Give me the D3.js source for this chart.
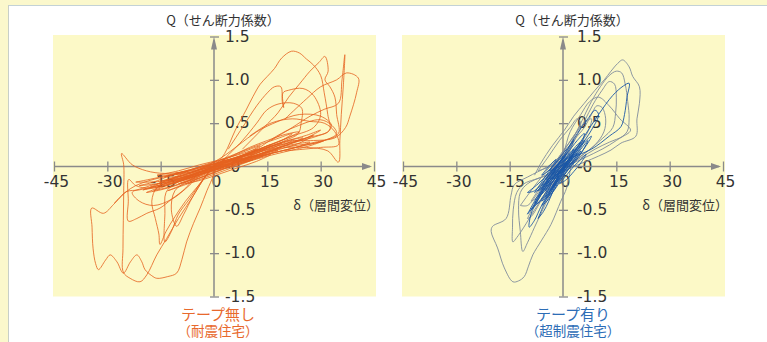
<!DOCTYPE html>
<html><head><meta charset="utf-8">
<script src="https://cdn.jsdelivr.net/npm/d3@7"></script>
<style>html,body{margin:0;padding:0;background:#fff}svg{display:block}</style>
</head><body>
<svg id="chart" width="767" height="342"></svg>
<script>
// Axis ticks and texts
const xTicks = [-45, -30, -15, 0, 15, 30, 45];
const xTickLabels = ["-45", "-30", "-15", "0", "15", "30", "45"];
const yTicks = [1.5, 1.0, 0.5, 0, -0.5, -1.0, -1.5];
const yTickLabels = ["1.5", "1.0", "0.5", "-0", "-0.5", "-1.0", "-1.5"];
const qTitle = "Q（せん断力係数）";
const dTitle = "δ（層間変位）";
const captionNoTape = ["テープ無し", "（耐震住宅）"];
const captionTape = ["テープ有り", "（超制震住宅）"];

// Hysteresis loops, [δ, Q] — house without tape (耐震住宅)
const loopsNoTape = [
  [[-16,-0.2],[-10,-0.12],[-4,-0.04],[2,0.04],[8,0.12],[14,0.2],[19,0.27],[16,0.2],[10,0.1],[4,0.01],[-2,-0.07],[-9,-0.15],[-16,-0.2]],
  [[-12,-0.2],[-6,-0.1],[0,0],[6,0.09],[12,0.17],[17,0.24],[22,0.3],[18,0.22],[11,0.12],[5,0.04],[-1,-0.05],[-7,-0.14],[-12,-0.2]],
  [[-18,-0.24],[-12,-0.14],[-6,-0.06],[0,0.03],[6,0.1],[11,0.14],[7,0.06],[2,-0.01],[-4,-0.09],[-10,-0.17],[-18,-0.24]],
  [[-9,-0.16],[-3,-0.05],[3,0.05],[9,0.14],[15,0.22],[21,0.3],[25,0.33],[20,0.24],[13,0.14],[6,0.05],[0,-0.04],[-6,-0.12],[-9,-0.16]],
  [[-14,-0.12],[-8,-0.06],[-2,0.01],[4,0.08],[10,0.16],[16,0.25],[13,0.17],[7,0.08],[1,0],[-5,-0.08],[-11,-0.12],[-14,-0.12]],
  [[-20,-0.27],[-14,-0.2],[-8,-0.11],[-2,-0.03],[4,0.05],[8,0.1],[4,0.03],[-2,-0.06],[-8,-0.15],[-14,-0.22],[-20,-0.27]],
  [[-6,-0.1],[0,-0.01],[6,0.08],[12,0.16],[18,0.24],[24,0.3],[28,0.36],[24,0.27],[17,0.18],[10,0.09],[3,0],[-3,-0.08],[-6,-0.1]],
  [[-16,-0.1],[-10,-0.05],[-4,0.02],[2,0.08],[8,0.15],[12,0.2],[8,0.12],[2,0.03],[-4,-0.04],[-10,-0.09],[-16,-0.1]],
  [[-10,-0.2],[-4,-0.1],[2,0],[8,0.08],[14,0.15],[18,0.19],[14,0.12],[8,0.04],[2,-0.04],[-4,-0.13],[-10,-0.2]],
  [[-22,-0.18],[-16,-0.13],[-10,-0.07],[-4,-0.01],[2,0.05],[-3,-0.03],[-9,-0.1],[-15,-0.17],[-22,-0.18]],
  [[-4,-0.03],[2,0.05],[8,0.13],[14,0.21],[20,0.29],[26,0.36],[30,0.42],[26,0.33],[19,0.23],[12,0.13],[5,0.04],[-4,-0.03]],
  [[-13,-0.28],[-7,-0.18],[-1,-0.08],[5,0.01],[11,0.08],[6,0],[0,-0.09],[-6,-0.18],[-13,-0.28]],
  [[-19,-0.3],[-14,-0.22],[-9,-0.15],[-5,-0.08],[-1,-0.02],[3,0.03],[7,0.09],[4,0.02],[0,-0.05],[-5,-0.13],[-10,-0.21],[-15,-0.27],[-19,-0.3]],
  [[-7,-0.08],[-2,0],[3,0.07],[8,0.11],[13,0.17],[18,0.22],[23,0.26],[27,0.28],[23,0.22],[17,0.16],[11,0.1],[5,0.03],[0,-0.04],[-7,-0.08]],
  [[-15,-0.17],[-11,-0.12],[-6,-0.03],[-1,0.04],[4,0.1],[9,0.18],[13,0.24],[9,0.15],[4,0.06],[-1,-0.02],[-6,-0.09],[-11,-0.15],[-15,-0.17]],
  [[-11,-0.08],[-6,-0.04],[-1,0.02],[4,0.06],[9,0.1],[14,0.13],[10,0.07],[5,0.02],[0,-0.03],[-5,-0.06],[-11,-0.08]],
  [[-21,-0.22],[-17,-0.18],[-12,-0.1],[-7,-0.04],[-2,0.02],[3,0.08],[0,0],[-5,-0.08],[-10,-0.14],[-16,-0.2],[-21,-0.22]],
  [[-3,-0.06],[3,0.02],[9,0.1],[15,0.17],[21,0.23],[26,0.26],[31,0.3],[27,0.24],[21,0.18],[15,0.12],[9,0.05],[3,-0.02],[-3,-0.06]],
  [[-8,-0.2],[-3,-0.12],[2,-0.04],[7,0.04],[12,0.1],[16,0.14],[12,0.06],[7,-0.01],[2,-0.08],[-3,-0.15],[-8,-0.2]],
  [[0,0.02],[5,0.12],[10,0.22],[15,0.3],[20,0.37],[24,0.4],[20,0.32],[15,0.24],[10,0.15],[5,0.07],[0,0.02]],
  [[-17,-0.28],[-12,-0.2],[-7,-0.12],[-3,-0.06],[1,0],[-2,-0.07],[-7,-0.16],[-12,-0.23],[-17,-0.28]],
  [[2,0.08],[7,0.16],[12,0.24],[17,0.31],[22,0.38],[19,0.3],[14,0.22],[9,0.14],[4,0.06],[2,0.08]],
  [[-12,-0.15],[-5,-0.05],[2,0.1],[7,0.25],[12,0.4],[18,0.52],[24,0.6],[30,0.58],[33,0.48],[32,0.4],[26,0.33],[18,0.24],[10,0.12],[2,-0.02],[-6,-0.1],[-12,-0.15]],
  [[5,0.05],[12,0.2],[17.6,0.35],[23,0.46],[29.8,0.54],[33,0.48],[34.5,0.38],[31,0.3],[25,0.24],[18,0.17],[10,0.1],[5,0.05]],
  [[2,0.05],[8,0.3],[12,0.5],[14.8,0.65],[18,0.72],[22.3,0.73],[24.7,0.67],[24.5,0.5],[23.7,0.38],[20,0.3],[14,0.2],[7,0.1],[2,0.05]],
  [[0,0],[3,0.15],[6,0.42],[9,0.65],[11,0.81],[13,0.95],[15,1.04],[17,1.13],[19,1.25],[21.8,1.33],[24,1.31],[26,1.24],[28,1.17],[30,1.05],[31,0.85],[32,0.6],[32.5,0.42],[29,0.35],[22,0.27],[15,0.16],[8,0.06],[0,0]],
  [[8,0.2],[14,0.45],[18,0.62],[21,0.8],[24,0.95],[27,1.1],[29.5,1.2],[31.2,1.27],[32.1,1.1],[31.2,1.0],[32.6,0.92],[34,0.8],[34.5,0.6],[35,0.38],[31,0.3],[24,0.23],[16,0.15],[8,0.06]],
  [[16,0.3],[22,0.45],[27,0.58],[31,0.66],[35,0.73],[36,1.0],[36.8,1.29],[36.4,0.95],[35.8,0.6],[35.4,0.3],[35,0.05],[32,0.18],[26,0.22],[20,0.22]],
  [[20,0.55],[26,0.78],[30,0.92],[34.5,1.0],[37.3,1.08],[40.6,1.02],[40.1,0.85],[38.2,0.58],[37,0.45],[34,0.33],[28,0.3],[22,0.3]],
  [[4,0.2],[8,0.45],[12,0.7],[15,0.85],[17,0.92],[18.8,0.92],[19.2,0.75],[19.6,0.68],[19.4,0.85],[21,0.88],[25,0.9],[28,0.82],[30,0.6],[28,0.45],[22,0.35],[14,0.22],[6,0.1]],
  [[10,0.35],[16,0.5],[22,0.55],[27,0.52],[31,0.5],[34,0.4],[35,0.25],[30,0.22],[20,0.18]],
  [[0,0],[-4,-0.06],[-10,-0.15],[-16,-0.22],[-21,-0.27],[-24.6,-0.29],[-26.9,-0.38],[-28.3,-0.44],[-31.1,-0.54],[-34.4,-0.48],[-34.3,-0.7],[-34,-0.95],[-33.3,-1.12],[-32.5,-1.19],[-30.5,-1.08],[-29.2,-1.02],[-27.3,-1.1],[-25.5,-1.23],[-23.5,-1.1],[-21.7,-1.02],[-20.3,-1.1],[-19.4,-1.19],[-17.5,-1.26],[-16.1,-1.29],[-13,-1.27],[-10.5,-1.23],[-9,-1.07],[-7.7,-0.87],[-5.8,-0.66],[-3.9,-0.48],[-2,-0.28],[-0.2,-0.1],[0,0]],
  [[-2,-0.02],[-8,-0.06],[-14,-0.08],[-19,-0.05],[-23,0.02],[-26,0.15],[-25.4,0.02],[-25.4,-0.3],[-25.5,-0.62],[-25.6,-0.95],[-25.5,-1.22],[-23.6,-1.29],[-20.8,-1.33],[-18.9,-1.25],[-16.1,-1.02],[-13.3,-0.83],[-10,-0.6],[-6,-0.35],[-3,-0.15],[-1,-0.04]],
  [[-5,-0.1],[-12,-0.2],[-18,-0.25],[-22,-0.22],[-24,-0.15],[-24.1,-0.4],[-24.1,-0.63],[-21.7,-0.6],[-18.9,-0.54],[-15.2,-0.48],[-12,-0.38],[-8,-0.25],[-5,-0.1]],
  [[0,0],[-6,-0.1],[-12,-0.18],[-16,-0.24],[-17.5,-0.4],[-16.5,-0.6],[-15.5,-0.78],[-15.2,-0.9],[-13.5,-0.75],[-11,-0.58],[-8,-0.4],[-4,-0.2],[0,0]],
  [[-1,-0.03],[-6,-0.12],[-11,-0.2],[-13.5,-0.3],[-13.8,-0.54],[-13.8,-0.87],[-12,-0.75],[-10,-0.55],[-7,-0.38],[-4,-0.2],[-1,-0.03]],
  [[-2,-0.05],[-7,-0.16],[-11,-0.28],[-12,-0.5],[-10.5,-0.69],[-8.5,-0.55],[-6,-0.35],[-3,-0.15]],
  [[-3,-0.05],[-10,-0.15],[-16,-0.2],[-20,-0.25],[-23,-0.3],[-21,-0.4],[-17,-0.45],[-12,-0.38],[-7,-0.22],[-3,-0.05]],
  [[-28,-0.42],[-25,-0.3],[-22,-0.22],[-18,-0.16],[-14,-0.12],[-9,-0.08]]
];

// Hysteresis loops, [δ, Q] — house with tape (超制震住宅), outer loops
const loopsTapeGray = [
  [[-8,-0.1],[-6.2,0.04],[-3,0.24],[0.4,0.42],[3,0.58],[6,0.73],[9,0.88],[11.6,1.0],[13.5,1.1],[15.4,1.19],[16.8,1.23],[18.6,1.15],[19.6,1.04],[21.5,0.92],[21.5,0.73],[20.8,0.55],[20.5,0.35],[16.3,0.27],[13.5,0.19],[10,0.12],[6,0.05],[3,0],[0,-0.05],[-2,-0.05]],
  [[-1,-0.05],[2,0.25],[5,0.5],[8,0.75],[10.5,0.92],[13,1.05],[15,1.1],[16.5,1.08],[17.5,0.95],[18.2,0.75],[18.6,0.55],[18,0.4],[15,0.3],[11,0.2],[6,0.1],[2,0.02],[-1,-0.05]],
  [[0,0],[3,0.28],[6,0.52],[8.5,0.72],[11,0.88],[13,0.98],[14.5,0.95],[15,0.8],[14.8,0.62],[14,0.45],[11,0.32],[7,0.18],[3,0.06],[0,0]],
  [[-3,-0.1],[0,0.1],[3,0.3],[6,0.45],[8,0.6],[9.5,0.7],[11,0.68],[12,0.55],[11.5,0.4],[9,0.25],[5,0.12],[1,0],[-3,-0.1]],
  [[-4,-0.1],[0,0.15],[2,0.4],[5,0.6],[7.5,0.75],[10,0.8],[13,0.7],[16,0.55],[19,0.42],[17,0.35],[13,0.28],[9,0.2],[5,0.1],[0,-0.02],[-4,-0.1]],
  [[3,0],[1.3,0.16],[-4.3,0],[-9.9,-0.12],[-13.7,-0.21],[-14.6,-0.33],[-16,-0.6],[-19.8,-0.69],[-20.2,-0.75],[-18.4,-0.94],[-16.5,-1.17],[-14.1,-1.33],[-12.5,-1.32],[-10.9,-1.27],[-9.7,-1.15],[-8.5,-1.02],[-6,-0.85],[-3.4,-0.67],[-0.6,-0.4],[1,-0.25],[2.2,0]],
  [[-1,-0.05],[-4,-0.1],[-8,-0.15],[-11,-0.2],[-13,-0.3],[-14,-0.5],[-14.2,-0.7],[-14.1,-0.87],[-13,-0.82],[-11,-0.7],[-8,-0.5],[-5,-0.32],[-2,-0.15],[-1,-0.05]],
  [[-2,-0.05],[-6,-0.12],[-10,-0.2],[-12,-0.3],[-12.5,-0.5],[-12,-0.75],[-11.3,-0.98],[-10,-0.88],[-8,-0.7],[-5.5,-0.48],[-3,-0.25],[-2,-0.05]],
  [[-9,-0.4],[-5,-0.15],[-1,0.1],[3,0.35],[6,0.5],[8,0.55],[7,0.4],[4,0.22],[0,0],[-4,-0.2],[-8,-0.38],[-9,-0.4]],
  [[-10,-0.6],[-7,-0.35],[-4,-0.12],[-1,0.1],[1,0.2],[0,0.08],[-3,-0.15],[-6,-0.38],[-9,-0.58],[-10,-0.6]],
  [[-7,-0.05],[-4,0.12],[-1,0.3],[2,0.45],[4,0.55],[5,0.5],[3,0.35],[0,0.18],[-3,0.02],[-7,-0.05]],
  [[-12,-0.45],[-9,-0.28],[-6,-0.12],[-3,0.02],[-4,-0.12],[-7,-0.3],[-10,-0.45],[-12,-0.45]]
];

// Hysteresis loops, [δ, Q] — house with tape, inner loops
const loopsTapeBlue = [
  [[-7,-0.35],[-4,-0.15],[-1,0.02],[2,0.15],[4,0.25],[5,0.28],[3,0.15],[0,-0.02],[-3,-0.18],[-6,-0.32],[-7,-0.35]],
  [[-5,-0.28],[-2,-0.08],[1,0.08],[3.5,0.2],[2,0.08],[-1,-0.08],[-4,-0.22],[-5,-0.28]],
  [[-8,-0.42],[-5,-0.22],[-2,-0.02],[1,0.14],[4,0.3],[6,0.38],[5,0.25],[2,0.08],[-1,-0.1],[-4,-0.28],[-7,-0.42],[-8,-0.42]],
  [[-3,-0.15],[-1,-0.02],[1,0.05],[2,0.1],[0.5,-0.01],[-1.5,-0.1],[-3,-0.15]],
  [[-6,-0.22],[-3,-0.1],[0,0.05],[3,0.18],[6,0.3],[4,0.16],[1,0.02],[-2,-0.1],[-5,-0.2],[-6,-0.22]],
  [[-9,-0.5],[-6,-0.3],[-3,-0.12],[0,0.05],[2,0.12],[-1,-0.06],[-4,-0.25],[-7,-0.42],[-9,-0.5]],
  [[-4,-0.3],[-2,-0.18],[0,-0.05],[2,0.06],[4,0.15],[2.5,0.04],[0,-0.1],[-2.5,-0.22],[-4,-0.3]],
  [[-2,-0.02],[1,0.18],[4,0.38],[7,0.55],[9,0.65],[10,0.6],[8,0.42],[5,0.24],[2,0.08],[-2,-0.02]],
  [[2,0.1],[6,0.35],[10,0.6],[14,0.82],[17,0.93],[18.6,0.96],[18,0.8],[17.3,0.6],[16.3,0.46],[13,0.35],[8,0.2],[2,0.1]],
  [[-1,-0.05],[-4,-0.2],[-7,-0.38],[-9,-0.55],[-9.5,-0.7],[-8,-0.62],[-6,-0.45],[-3.4,-0.3],[-1,-0.05]],
  [[-6,-0.4],[-3,-0.25],[0,-0.08],[3,0.08],[5,0.18],[3,0.05],[0,-0.12],[-3,-0.3],[-6,-0.4]],
  [[-10,-0.3],[-7,-0.2],[-4,-0.08],[-1,0.05],[1,0.15],[-2,0],[-5,-0.15],[-8,-0.28],[-10,-0.3]],
  [[-5,-0.15],[-3,-0.05],[-1,0.05],[1,0.12],[3,0.2],[1.5,0.08],[-0.5,-0.03],[-2.5,-0.12],[-5,-0.15]],
  [[-7,-0.28],[-5,-0.16],[-3,-0.06],[-1,0.03],[1,0.1],[-0.5,0],[-2.5,-0.1],[-5,-0.22],[-7,-0.28]],
  [[-6,-0.45],[-4,-0.3],[-2,-0.16],[0,-0.02],[2,0.1],[3,0.15],[1.5,0.02],[-0.5,-0.12],[-2.5,-0.27],[-4.5,-0.4],[-6,-0.45]],
  [[-3,-0.25],[-1,-0.12],[1,0],[3,0.1],[5,0.2],[7,0.3],[5.5,0.18],[3.5,0.06],[1,-0.06],[-1,-0.17],[-3,-0.25]],
  [[-8,-0.3],[-6,-0.18],[-4,-0.06],[-2,0.04],[0,0.12],[-1.5,0.02],[-3.5,-0.1],[-5.5,-0.22],[-8,-0.3]],
  [[-2,-0.1],[0,0],[2,0.1],[4,0.2],[6,0.28],[8,0.35],[6.5,0.24],[4.5,0.13],[2,0.02],[0,-0.06],[-2,-0.1]],
  [[-10,-0.55],[-8,-0.4],[-6,-0.26],[-4,-0.14],[-2,-0.03],[-3.5,-0.14],[-5.5,-0.28],[-7.5,-0.42],[-10,-0.55]],
  [[-4,-0.05],[-2,0.05],[0,0.15],[2,0.25],[3,0.3],[1.5,0.18],[-0.5,0.06],[-2.5,-0.03],[-4,-0.05]],
  [[-1,-0.2],[1,-0.1],[3,0],[5,0.08],[6.5,0.14],[5,0.04],[3,-0.06],[1,-0.15],[-1,-0.2]],
  [[-6,-0.1],[-4,0],[-2,0.08],[-3,0],[-5,-0.08],[-6,-0.1]],
  [[-5,-0.35],[-3.5,-0.22],[-2,-0.12],[-0.5,-0.04],[1,0.04],[-0.5,-0.1],[-2,-0.2],[-3.5,-0.3],[-5,-0.35]],
  [[-7,-0.6],[-5.5,-0.45],[-4,-0.32],[-2.5,-0.2],[-1,-0.1],[-2.5,-0.25],[-4,-0.4],[-5.5,-0.52],[-7,-0.6]]
];

const svg = d3.select("#chart");
const W = 767, H = 342;
const axisColor = "#8a8a8a";
const textColor = "#333";

// page background: yellow strip on top/left, white sheet
svg.append("rect").attr("width", W).attr("height", H).attr("fill", "#fbf8cc");
svg.append("rect").attr("x", 8).attr("y", 5).attr("width", W - 8).attr("height", H - 5).attr("fill", "#fff");
svg.append("line").attr("x1", 8).attr("x2", W).attr("y1", 5.5).attr("y2", 5.5).attr("stroke", "#c3d2d6").attr("stroke-width", 1);
svg.append("line").attr("x1", 8.5).attr("x2", 8.5).attr("y1", 5).attr("y2", H).attr("stroke", "#c8cfc8").attr("stroke-width", 1);

const y = d3.scaleLinear().domain([-1.5, 1.5]).range([296.5, 36.5]);

const panels = [
  { range: [54, 374], loops: [{ data: loopsNoTape, color: "#e5621f", width: 0.9, opacity: 0.9 }],
    caption: captionNoTape, capColor: "#e8692d", capX: 218, labelPad: 6 },
  { range: [403, 723], loops: [
      { data: loopsTapeGray, color: "#7f8c9c", width: 1, opacity: 0.9 },
      { data: loopsTapeBlue, color: "#1a57a6", width: 1, opacity: 0.9 }],
    caption: captionTape, capColor: "#2d6db6", capX: 573, labelPad: 9 }
];

const line = d3.line().curve(d3.curveCatmullRom.alpha(0.5));
const tickFont = "'DejaVu Sans', sans-serif";
const cjkFont = "'Noto Sans CJK JP', sans-serif";

panels.forEach(p => {
  const x = d3.scaleLinear().domain([-45, 45]).range(p.range);
  const g = svg.append("g");
  const ax = x(0), ay = y(0);

  // plot background
  g.append("rect")
    .attr("x", x(-45) - 1).attr("y", y(1.5) - 1.5)
    .attr("width", x(45) - x(-45) + 3).attr("height", y(-1.5) - y(1.5) + 1.5)
    .attr("fill", "#fcf9c7");

  // x axis
  const xAxis = g.append("g").attr("transform", `translate(0,${ay})`)
    .call(d3.axisBottom(x).tickValues(xTicks).tickSize(5).tickPadding(4)
      .tickFormat((d, i) => xTickLabels[i]));
  xAxis.select(".domain").remove();
  xAxis.selectAll(".tick line").attr("y1", -5).attr("stroke", axisColor).attr("stroke-width", 1.3);
  xAxis.selectAll(".tick text").attr("fill", textColor).attr("dx", 2)
    .style("font-family", tickFont).style("font-size", "15.5px");

  // y axis
  const yAxis = g.append("g").attr("transform", `translate(${ax},0)`)
    .call(d3.axisRight(y).tickValues(yTicks).tickSize(5).tickPadding(p.labelPad)
      .tickFormat((d, i) => yTickLabels[i]));
  yAxis.select(".domain").remove();
  yAxis.selectAll(".tick line").attr("x1", -4).attr("stroke", axisColor).attr("stroke-width", 1.3);
  yAxis.selectAll(".tick text").attr("fill", textColor).attr("dy", "0.3em")
    .style("font-family", tickFont).style("font-size", "15.5px");

  // axis lines with arrowheads
  g.append("line").attr("x1", x(-45)).attr("x2", x(45) - 4).attr("y1", ay).attr("y2", ay)
    .attr("stroke", axisColor).attr("stroke-width", 1.5);
  g.append("path")
    .attr("d", `M${x(45) - 2},${ay} L${x(45) - 12},${ay - 3.5} L${x(45) - 12},${ay + 3.5} Z`)
    .attr("fill", axisColor);
  g.append("line").attr("x1", ax).attr("x2", ax).attr("y1", y(-1.5)).attr("y2", y(1.5) + 4)
    .attr("stroke", axisColor).attr("stroke-width", 1.5);
  g.append("path")
    .attr("d", `M${ax},${y(1.5)} L${ax - 3},${y(1.5) + 13} L${ax + 3},${y(1.5) + 13} Z`)
    .attr("fill", axisColor);

  // loops
  p.loops.forEach(set => {
    g.append("g").selectAll("path").data(set.data).join("path")
      .attr("d", d => line(d.map(([dx, q]) => [x(dx), y(q)])))
      .attr("fill", "none")
      .attr("stroke", set.color)
      .attr("stroke-width", set.width)
      .attr("stroke-opacity", set.opacity)
      .attr("stroke-linejoin", "round");
  });

  // axis titles
  g.append("text").attr("x", ax + 9).attr("y", 25).attr("text-anchor", "middle")
    .attr("fill", textColor).style("font-family", cjkFont).style("font-size", "13px")
    .text(qTitle);
  g.append("text").attr("x", x(45) + 5).attr("y", 210).attr("text-anchor", "end")
    .attr("fill", textColor).style("font-family", cjkFont).style("font-size", "13px")
    .text(dTitle);

  // two-line caption under the panel
  const cap = g.append("text").attr("text-anchor", "middle")
    .attr("fill", p.capColor).style("font-family", cjkFont);
  cap.append("tspan").attr("x", p.capX).attr("y", 320).style("font-size", "15px").text(p.caption[0]);
  cap.append("tspan").attr("x", p.capX).attr("y", 336).style("font-size", "13.5px").text(p.caption[1]);
});
</script>
</body></html>
